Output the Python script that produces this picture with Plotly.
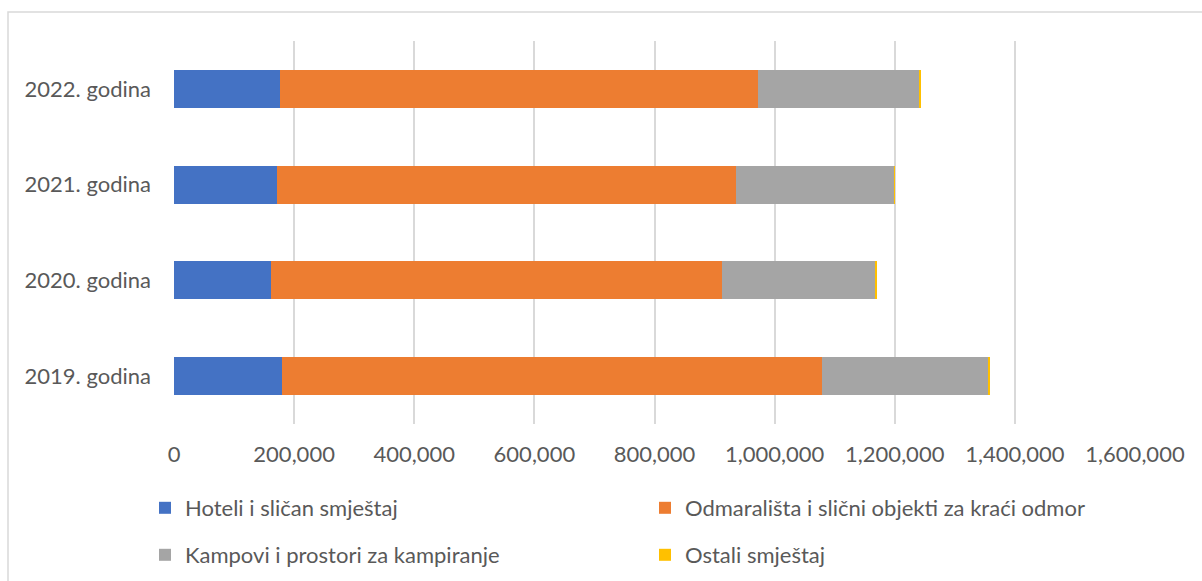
import plotly.graph_objects as go

categories = ["2019. godina", "2020. godina", "2021. godina", "2022. godina"]
hoteli = [180200, 161400, 171900, 176400]
odmaralista = [898500, 750400, 763200, 795800]
kampovi = [277400, 256200, 264600, 269100]
ostali = [2000, 2000, 700, 2000]

series_names = [
    "Hoteli i sličan smještaj",
    "Odmarališta i slični objekti za kraći odmor",
    "Kampovi i prostori za kampiranje",
    "Ostali smještaj",
]
colors = ["#4472C4", "#ED7D31", "#A5A5A5", "#FFC000"]
legends = ["legend", "legend", "legend2", "legend2"]

W, H = 1202, 581
L, R, T, B = 174, 1135, 41, 424
pw, ph = R - L, B - T

fig = go.Figure()
for name, vals, col, lg in zip(series_names, [hoteli, odmaralista, kampovi, ostali], colors, legends):
    fig.add_trace(go.Bar(
        y=categories, x=vals, name=name, orientation="h",
        marker=dict(color=col, line=dict(width=0)),
        legend=lg,
    ))

font = dict(family="Lato, Carlito, Calibri, sans-serif", size=22, color="#595959")

def px_x(x):
    return (x - L) / pw

def px_y(y):
    return (B - y) / ph

fig.update_layout(
    width=W, height=H,
    margin=dict(l=L, r=W - R, t=T, b=H - B, pad=0, autoexpand=False),
    barmode="stack", bargap=0.604,
    plot_bgcolor="white", paper_bgcolor="white",
    font=font,
    showlegend=True,
    legend=dict(orientation="h", x=px_x(145), y=px_y(508), xanchor="left", yanchor="middle",
                entrywidth=455, entrywidthmode="pixels", font=font, bgcolor="rgba(0,0,0,0)",
                traceorder="normal", itemwidth=30),
    legend2=dict(orientation="h", x=px_x(145), y=px_y(555), xanchor="left", yanchor="middle",
                 entrywidth=455, entrywidthmode="pixels", font=font, bgcolor="rgba(0,0,0,0)",
                 traceorder="normal", itemwidth=30),
    xaxis=dict(range=[0, 1600000], dtick=200000, tick0=0, tickformat=",",
               showgrid=True, gridcolor="#D9D9D9", gridwidth=1.5,
               zeroline=False, showline=False, ticks="", fixedrange=True,
               ticklabelstandoff=15, tickfont=font, automargin=False),
    yaxis=dict(showgrid=False, zeroline=False, showline=False, ticks="",
               ticklabelstandoff=22, tickfont=font, fixedrange=True, automargin=False),
    shapes=[dict(type="rect", xref="paper", yref="paper",
                 x0=px_x(8), x1=px_x(1230), y0=px_y(620), y1=px_y(12),
                 line=dict(color="#D9D9D9", width=1.5), fillcolor="rgba(0,0,0,0)",
                 layer="below")],
)

fig.write_html("out.html",
               config={"displayModeBar": False},
               post_script="document.body.style.margin='0px';document.body.style.overflow='hidden';")
